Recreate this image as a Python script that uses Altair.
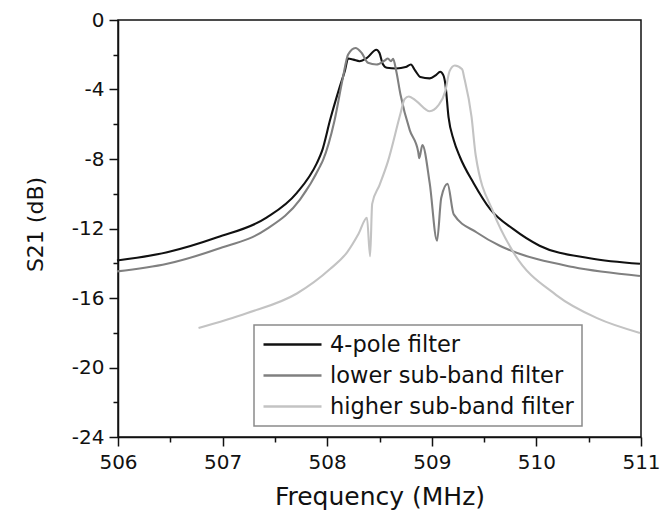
import altair as alt
import pandas as pd

# ---- data ----
pole4_f = [505.99, 506.47, 506.95, 507.42, 507.71, 507.90, 507.95, 508.03, 508.12, 508.17,
           508.20, 508.25, 508.31, 508.38, 508.47, 508.50, 508.53, 508.57, 508.66, 508.75,
           508.80, 508.84, 508.89, 508.98, 509.04, 509.08, 509.11, 509.13, 509.16, 509.21,
           509.27, 509.40, 509.56, 509.78, 510.03, 510.51, 510.99]
pole4_db = [-13.84, -13.37, -12.51, -11.38, -9.95, -8.25, -7.55, -5.70, -3.85, -2.90,
            -2.22, -2.28, -2.37, -2.18, -1.71, -1.90, -2.52, -2.75, -2.79, -2.71,
            -2.56, -2.90, -3.28, -3.36, -3.17, -2.98, -3.17, -3.70, -5.59, -6.92,
            -7.90, -9.39, -10.90, -12.04, -12.99, -13.71, -14.03]

lower_f = [505.99, 506.47, 506.95, 507.42, 507.74, 507.93, 507.96, 508.07, 508.15, 508.20,
           508.27, 508.33, 508.39, 508.47, 508.55, 508.58, 508.61, 508.63, 508.66, 508.70,
           508.79, 508.87, 508.88, 508.91, 508.98, 509.05, 509.09, 509.15, 509.21, 509.43,
           509.65, 509.72, 510.35, 510.99]
lower_db = [-14.47, -14.03, -13.18, -12.04, -10.34, -8.44, -8.06, -5.78, -3.32, -1.99,
            -1.61, -1.90, -2.46, -2.56, -2.33, -2.22, -2.37, -2.24, -2.94, -4.27,
            -6.35, -7.58, -7.96, -7.20, -9.39, -12.70, -10.24, -9.43, -11.19, -12.23,
            -12.99, -13.18, -14.22, -14.73]

higher_f = [506.77, 507.23, 507.71, 508.03, 508.19, 508.30, 508.38, 508.41, 508.43, 508.50,
            508.58, 508.70, 508.74, 508.78, 508.85, 508.98, 509.06, 509.13, 509.17, 509.22,
            509.29, 509.31, 509.38, 509.42, 509.59, 509.78, 510.19, 510.58, 510.99]
higher_db = [-17.73, -16.88, -15.74, -14.32, -13.37, -12.30, -11.38, -13.60, -10.58, -9.50,
             -8.15, -5.40, -4.55, -4.40, -4.65, -5.25, -4.93, -4.08, -2.94, -2.62,
             -2.84, -3.32, -5.58, -7.80, -11.09, -13.37, -15.83, -17.16, -18.01]

series_names = ["4-pole filter", "lower sub-band filter", "higher sub-band filter"]
series_colors = ["#111111", "#808080", "#c3c3c3"]

x_major = [506, 507, 508, 509, 510, 511]
x_minor = [506.5, 507.5, 508.5, 509.5, 510.5]
y_major = [0, -4, -8, -12, -16, -20, -24]
y_minor = [-2, -6, -10, -14, -18, -22]

rows = []
for name, fs, ds in [(series_names[0], pole4_f, pole4_db),
                     (series_names[1], lower_f, lower_db),
                     (series_names[2], higher_f, higher_db)]:
    for i, (f, d) in enumerate(zip(fs, ds)):
        rows.append({"series": name, "f": f, "db": d, "order": i})
df = pd.DataFrame(rows)

FONT = "DejaVu Sans"
xscale = alt.Scale(domain=[506, 511], nice=False, zero=False)
yscale = alt.Scale(domain=[-24, 0], nice=False, zero=False)

lines = alt.Chart(df).mark_line(strokeWidth=2.1, interpolate="monotone").encode(
    x=alt.X("f:Q", scale=xscale,
            axis=alt.Axis(values=x_major, title="Frequency (MHz)", orient="bottom",
                          tickSize=9, labelPadding=6, labelFontSize=20, labelFont=FONT,
                          labelExpr="datum.value + ''", labelColor="#111",
                          titleFont=FONT, titleFontSize=25, titleFontWeight="normal",
                          titleColor="#111", titleBaseline="alphabetic", titleY=67,
                          titleX=261.5, labelFlush=False)),
    y=alt.Y("db:Q", scale=yscale,
            axis=alt.Axis(values=y_major, title="S21 (dB)", orient="left",
                          tickSize=9, labelPadding=5, labelFontSize=20, labelFont=FONT,
                          labelExpr="datum.value + ''", labelColor="#111",
                          titleFont=FONT, titleFontSize=22, titleFontWeight="normal",
                          titleColor="#111", titleBaseline="middle", titleX=-83,
                          titleY=204, titleAngle=-90, labelFlush=False)),
    color=alt.Color("series:N",
                    scale=alt.Scale(domain=series_names, range=series_colors),
                    legend=alt.Legend(title=None, orient="none", legendX=136, legendY=305,
                                      symbolType="stroke", symbolSize=3364,
                                      symbolStrokeWidth=2.4, clipHeight=23,
                                      labelFont=FONT, labelFontSize=22.5, labelColor="#111",
                                      labelOffset=7, rowPadding=8, padding=8,
                                      strokeColor="#8a8a8a", fillColor="white",
                                      labelLimit=400)),
    order="order:Q",
)

minor = alt.Chart(df).mark_point(opacity=0).encode(
    x=alt.X("f:Q", scale=xscale,
            axis=alt.Axis(values=x_minor, orient="bottom", title=None, labels=False,
                          domain=False, tickSize=5)),
    y=alt.Y("db:Q", scale=yscale,
            axis=alt.Axis(values=y_minor, orient="left", title=None, labels=False,
                          domain=False, tickSize=5)),
)

chart = alt.layer(lines, minor).resolve_axis(x="independent", y="independent").properties(
    width=523, height=417,
    padding={"left": 110, "top": 12, "right": 23, "bottom": 74},
    autosize=alt.AutoSizeParams(type="none"),
).configure_axis(
    grid=False, domainColor="#111", domainWidth=1.5, tickColor="#111", tickWidth=1.5,
).configure_view(
    stroke="#111", strokeWidth=1.5,
).configure_legend(
    strokeWidth=1.5,
)

chart.save("out.html", embed_options={"renderer": "svg", "actions": False})
